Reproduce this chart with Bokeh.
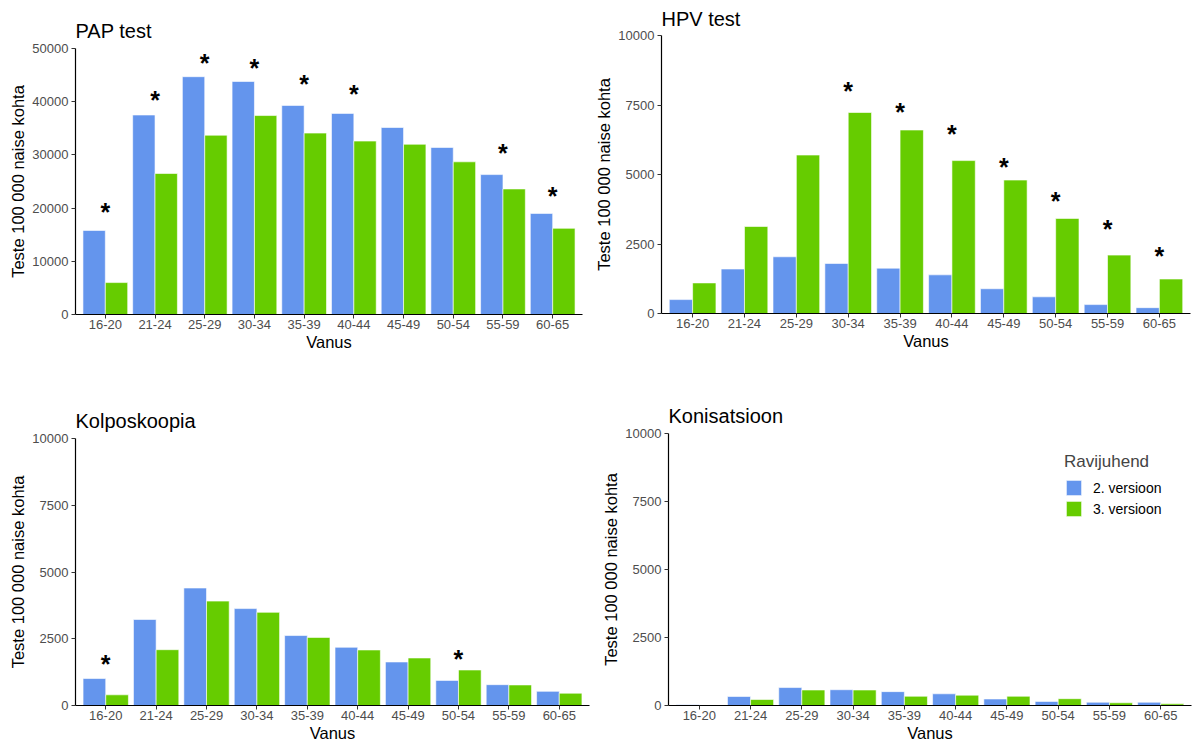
from bokeh.plotting import figure
from bokeh.models import (FactorRange, Range1d, ColumnDataSource, NumeralTickFormatter, FixedTicker,
                          Legend, LegendItem)
from bokeh.transform import dodge
from bokeh.layouts import column, row
from bokeh.core.properties import value
from bokeh.embed import file_html
from bokeh.resources import INLINE

cats = ["16-20", "21-24", "25-29", "30-34", "35-39", "40-44", "45-49", "50-54", "55-59", "60-65"]
series_names = ["2. versioon", "3. versioon"]
legend_title = "Ravijuhend"

pap_v2 = [15800, 37500, 44700, 43800, 39300, 37800, 35150, 31400, 26300, 19000]
pap_v3 = [6000, 26500, 33700, 37400, 34100, 32600, 32000, 28700, 23600, 16200]
pap_star = [19800, 40800, 47900, 46900, 43900, 42000, None, None, 30900, 22900]

hpv_v2 = [500, 1600, 2040, 1800, 1630, 1390, 890, 600, 320, 210]
hpv_v3 = [1100, 3130, 5700, 7230, 6600, 5500, 4800, 3420, 2100, 1240]
hpv_star = [None, None, None, 8120, 7340, 6580, 5380, 4150, 3150, 2170]

kol_v2 = [1010, 3220, 4400, 3630, 2620, 2180, 1630, 940, 780, 530]
kol_v3 = [400, 2090, 3910, 3490, 2550, 2080, 1780, 1330, 770, 460]
kol_star = [1670, None, None, None, None, None, None, 1860, None, None]

kon_v2 = [30, 330, 660, 580, 510, 430, 240, 150, 120, 120]
kon_v3 = [10, 220, 570, 570, 340, 380, 340, 250, 100, 60]
kon_star = [None] * 10

pap_ticks = [0, 10000, 20000, 30000, 40000, 50000]
small_ticks = [0, 2500, 5000, 7500, 10000]

BLUE = "#6495ED"
GREEN = "#66CC00"
FONT = "Liberation Sans"


def make_panel(title, v2, v3, stars, ymax, ticks, w, h, bl, br, bt, bb, tstand, legend=False):
    p = figure(width=w, height=h, title=title,
               x_range=FactorRange(*cats, range_padding=0.1, range_padding_units="absolute"),
               y_range=Range1d(0, ymax), output_backend="svg", toolbar_location=None,
               min_border_left=bl, min_border_right=br, min_border_top=bt, min_border_bottom=bb)
    src = ColumnDataSource(dict(cat=cats, v2=v2, v3=v3))
    r1 = p.vbar(x=dodge("cat", -0.225, range=p.x_range), top="v2", width=0.45, source=src,
                fill_color=BLUE, line_color="white", line_width=0.6)
    r2 = p.vbar(x=dodge("cat", 0.225, range=p.x_range), top="v3", width=0.45, source=src,
                fill_color=GREEN, line_color="white", line_width=0.6)
    sx = [c for c, s in zip(cats, stars) if s is not None]
    sy = [s for s in stars if s is not None]
    if sx:
        ssrc = ColumnDataSource(dict(x=sx, y=sy, t=["*"] * len(sx)))
        p.text(x="x", y="y", text="t", source=ssrc, text_font=value(FONT), text_font_size="25px",
               text_font_style="bold", text_align="center", text_baseline="middle", y_offset=3,
               text_color="black")
    p.title.text_font = FONT
    p.title.text_font_size = "20px"
    p.title.text_font_style = "normal"
    p.title.text_color = "black"
    p.title.align = "left"
    p.title.standoff = tstand
    p.title.offset = 0
    p.outline_line_color = None
    p.xgrid.visible = False
    p.ygrid.visible = False
    for ax in (p.xaxis[0], p.yaxis[0]):
        ax.axis_line_color = "black"
        ax.axis_line_width = 1.2
        ax.major_tick_line_color = "#333333"
        ax.major_tick_out = 4
        ax.major_tick_in = 0
        ax.minor_tick_line_color = None
        ax.major_label_text_font = FONT
        ax.major_label_text_font_size = "13px"
        ax.major_label_text_color = "#4D4D4D"
        ax.axis_label_text_font = FONT
        ax.axis_label_text_font_size = "16.5px"
        ax.axis_label_text_font_style = "normal"
        ax.axis_label_text_color = "black"
    p.xaxis.axis_label = "Vanus"
    p.yaxis.axis_label = "Teste 100 000 naise kohta"
    p.yaxis.ticker = FixedTicker(ticks=ticks)
    p.yaxis.formatter = NumeralTickFormatter(format="0")
    p.yaxis.major_label_standoff = 3
    p.yaxis.axis_label_standoff = 2
    p.xaxis.major_label_standoff = 1
    p.xaxis.axis_label_standoff = 1
    if legend:
        lg = Legend(items=[LegendItem(label=series_names[0], renderers=[r1]),
                           LegendItem(label=series_names[1], renderers=[r2])],
                    location=(396, 187), title=legend_title)
        lg.padding = 0
        lg.margin = 0
        lg.border_line_color = None
        lg.background_fill_alpha = 0
        lg.glyph_width = 19
        lg.glyph_height = 19
        lg.label_height = 19
        lg.spacing = 2
        lg.label_standoff = 10
        lg.title_standoff = 6
        lg.title_text_font = FONT
        lg.title_text_font_size = "17px"
        lg.title_text_font_style = "normal"
        lg.label_text_font = FONT
        lg.label_text_font_size = "14px"
        lg.label_text_color = "black"
        p.add_layout(lg)
    return p


p1 = make_panel("PAP test", pap_v2, pap_v3, pap_star, 50000, pap_ticks, 590, 380, 75, 8, 48, 66, 13)
p2 = make_panel("HPV test", hpv_v2, hpv_v3, hpv_star, 10000, small_ticks, 602, 380, 71, 2, 35, 67, 11)
p3 = make_panel("Kolposkoopia", kol_v2, kol_v3, kol_star, 10000, small_ticks, 590, 364, 75, 1, 58, 37, 13)
p4 = make_panel("Konisatsioon", kon_v2, kon_v3, kon_star, 10000, small_ticks, 602, 364, 78, 1, 53, 37, 13,
                legend=True)

layout = column(row(column(p1), column(p2)), row(column(p3), column(p4)))
open("out.html", "w").write(file_html(layout, INLINE))
